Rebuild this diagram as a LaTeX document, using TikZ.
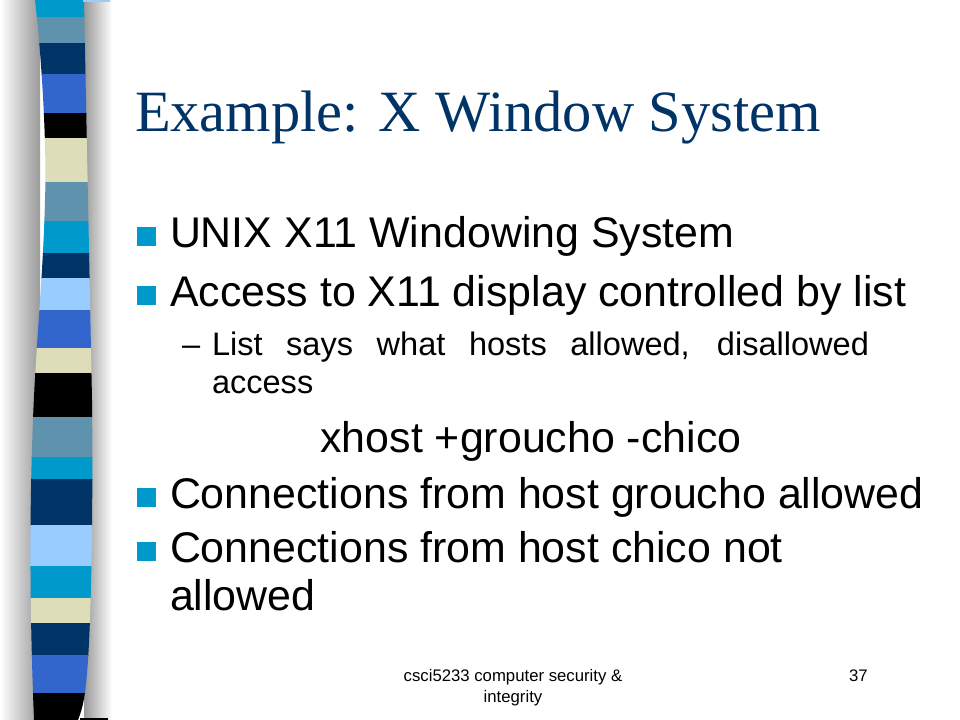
\documentclass[tikz,border=0pt]{standalone}
\usepackage{fontspec}
\setmainfont{Liberation Sans}
\newfontfamily\titlefont{Liberation Serif}
\definecolor{cCyan}{HTML}{0099CC}
\definecolor{cSteel}{HTML}{5F93AD}
\definecolor{cNavy}{HTML}{003366}
\definecolor{cRoyal}{HTML}{3366CC}
\definecolor{cBeige}{HTML}{DDDDB9}
\definecolor{cLight}{HTML}{99CCFF}
\definecolor{cTitle}{HTML}{003366}
\tikzset{
  txt/.style={anchor=base west, inner sep=0pt, outer sep=0pt},
  bigtxt/.style={txt, font=\fontsize{32.3}{38}\selectfont},
  subtxt/.style={txt, font=\fontsize{24.5}{29}\selectfont},
  foot/.style={anchor=base, inner sep=0pt, font=\fontsize{12.6}{15}\selectfont},
  bulletsq/.style={fill=cCyan, draw=none}
}
\begin{document}
\begin{tikzpicture}[x=0.75bp,y=-0.75bp]
\useasboundingbox (0,0) rectangle (960,720);
\fill[white] (0,0) rectangle (960,720);
% shadows of the strip
\shade[left color=white, right color=gray!80] (0,0) rectangle (40,720);
\shade[left color=gray!80, right color=white] (84,0) rectangle (112,720);
% strip
\begin{scope}
\clip (35,0) .. controls (42,60) and (47,150) .. (45,200)
  .. controls (43,280) and (36,340) .. (33,420)
  .. controls (29,520) and (30,620) .. (34,720)
  -- (78,720) .. controls (84,705) and (86,690) .. (88,660)
  .. controls (92,600) and (93,480) .. (92,400)
  .. controls (90,300) and (87,150) .. (84,0) -- cycle;
\foreach \ya/\yb/\cc in {0/17/cCyan,17/43/cSteel,43/74/cNavy,74/113/cRoyal,113/138/black,138/182/cBeige,182/221/cSteel,221/253/cCyan,253/278/cNavy,278/310/cLight,310/348/cRoyal,348/373/cBeige,373/417/black,417/457/cSteel,457/479/cCyan,479/525/cNavy,525/566/cLight,566/598/cCyan,598/623/cBeige,623/655/cNavy,655/693/cRoyal,693/720/black}
  \fill[\cc] (20,\ya) rectangle (100,\yb+0.5);
\end{scope}
\fill[cLight] (83,0) rectangle (110,1.5);
\fill[black] (80,718) rectangle (108,720);
% title
\node[txt, font=\titlefont\fontsize{44}{52}\selectfont, text=cTitle] (title) at (135,131) {Example: X Window System};
% bullets
\fill[bulletsq] (137,227) rectangle (156,246);
\node[bigtxt] (t1) at (170,247) {UNIX X11 Windowing System};
\fill[bulletsq] (137,286) rectangle (156,305);
\node[bigtxt] (t2) at (170,306) {Access to X11 display controlled by list};
\node[subtxt] (d1) at (182,355) {–};
\node[subtxt] (s1) at (212,355) {\makebox[492.75bp][s]{List says what hosts allowed, disallowed}};
\node[subtxt] (s2) at (212,393) {access};
\node[bigtxt, anchor=base] (cmd) at (531,452) {xhost +groucho -chico};
\fill[bulletsq] (137,488) rectangle (156,507);
\node[bigtxt] (t3) at (170,508) {Connections from host groucho allowed};
\fill[bulletsq] (137,542) rectangle (156,561);
\node[bigtxt] (t4) at (170,562) {Connections from host chico not};
\node[bigtxt] (t5) at (170,610) {allowed};
% footer
\node[foot] (f1) at (513,681) {csci5233 computer security \&};
\node[foot] (f2) at (513,702) {integrity};
\node[foot, anchor=base east] (pg) at (868,681) {37};
\end{tikzpicture}
\end{document}
